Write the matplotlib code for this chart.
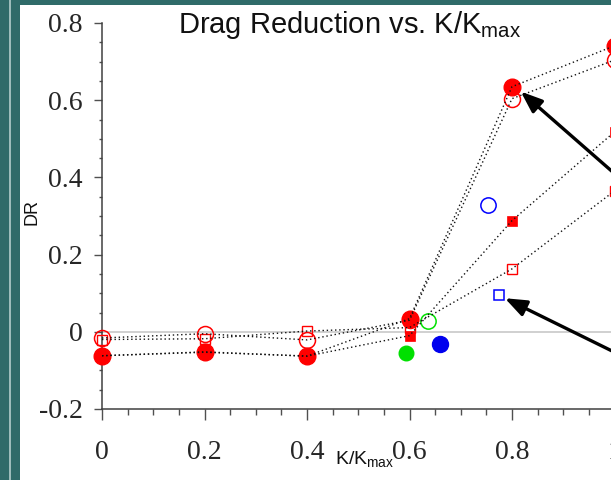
import matplotlib
matplotlib.use("Agg")
import matplotlib.pyplot as plt
from matplotlib.patches import Rectangle
from matplotlib.ticker import MultipleLocator, FuncFormatter

plt.rcParams['font.family'] = ['Liberation Sans', 'DejaVu Sans']
plt.rcParams['axes.unicode_minus'] = False

# ---- data ----
kk = [0.0, 0.2, 0.4, 0.6, 0.8, 1.0]
red_filled_circle = [-0.062, -0.052, -0.063, 0.034, 0.635, 0.741]
red_open_circle = [-0.016, -0.005, -0.021, 0.030, 0.604, 0.704]
red_open_square = [-0.020, -0.018, 0.002, 0.011, 0.163, 0.365]
red_filled_square = [-0.062, -0.053, -0.063, -0.010, 0.288, 0.518]

green_open_x, green_open_y = [0.636], [0.027]
green_filled_x, green_filled_y = [0.593], [-0.054]
blue_filled_x, blue_filled_y = [0.660], [-0.032]
blue_open_circle_x, blue_open_circle_y = [0.753], [0.329]
blue_open_square_x, blue_open_square_y = [0.775], [0.096]

arrow_tips = [(0.817, 0.6225), (0.786, 0.087)]
arrow_tails = [(1.167, 0.216), (1.167, -0.162)]

title_text = 'Drag Reduction vs. K/K$_{\\mathregular{max}}$'
xlabel_text = 'K/K$_{\\mathregular{max}}$'
ylabel_text = 'DR'

W, H = 611, 480
fig = plt.figure(figsize=(W / 100, H / 100), dpi=100, facecolor='#2f6b69')
fig.patches.append(Rectangle((9 / W, 0), 2 / W, 1, transform=fig.transFigure,
                             facecolor='#9dbdbb', edgecolor='none', zorder=-10))
fig.patches.append(Rectangle((20 / W, 0), 1 - 20 / W, 1 - 5 / H, transform=fig.transFigure,
                             facecolor='white', edgecolor='none', zorder=-10))

px_per_x = 512.5
xmax = 1.2
ax = fig.add_axes([102 / W, (H - 409) / H, xmax * px_per_x / W, 386 / H])
ax.set_zorder(1)
ax.set_facecolor('none')
ax.set_xlim(0, xmax)
ax.set_ylim(-0.2, 0.8)

for s in ['top', 'right']:
    ax.spines[s].set_visible(False)
for s in ['left', 'bottom']:
    ax.spines[s].set_color('#404040')
    ax.spines[s].set_linewidth(1.1)

ax.axhline(0, color='#c8c8c8', lw=1.2, zorder=1)

ax.xaxis.set_major_locator(MultipleLocator(0.2))
ax.xaxis.set_minor_locator(MultipleLocator(0.05))
ax.yaxis.set_major_locator(MultipleLocator(0.2))
ax.yaxis.set_minor_locator(MultipleLocator(0.05))
fmt = FuncFormatter(lambda v, p: '0' if abs(v) < 1e-9 else ('%g' % round(v, 2)))
ax.xaxis.set_major_formatter(fmt)
ax.yaxis.set_major_formatter(fmt)

ax.tick_params(axis='y', which='major', direction='out', length=5.5, width=1.0,
               color='#505050', pad=8.5)
ax.tick_params(axis='y', which='minor', direction='out', length=2.5, width=1.0, color='#505050')
ax.tick_params(axis='x', which='major', direction='out', length=8, width=1.0,
               color='#505050', pad=14)
ax.tick_params(axis='x', which='minor', direction='out', length=4, width=1.0, color='#505050')
for lab in ax.get_xticklabels() + ax.get_yticklabels():
    lab.set_fontfamily('Liberation Serif')
    lab.set_fontsize(20)
    lab.set_color('#262626')

dot = (0, (1, 2))
line_kw = dict(color='#111111', lw=1.0, linestyle=dot, zorder=5, clip_on=False)
mk = dict(linestyle='none', clip_on=False)

# red series: markers then dotted lines on top
ax.plot(kk, red_open_circle, marker='o', ms=11.5, mfc='none',
        mec='red', mew=1.1, zorder=3, **mk)
ax.plot(kk, red_filled_square, marker='s', ms=7, mfc='red',
        mec='red', mew=0.5, zorder=3, **mk)
ax.plot(kk, red_open_square, marker='s', ms=7.5, mfc='none',
        mec='red', mew=1.0, zorder=3, **mk)
ax.plot(kk, red_filled_circle, marker='o', ms=12, mfc='red',
        mec='red', zorder=4, **mk)
for ser in [red_filled_circle, red_open_circle, red_open_square, red_filled_square]:
    ax.plot(kk, ser, **line_kw)

ax.plot(green_open_x, green_open_y, marker='o', ms=11, mfc='none',
        mec='#00e000', mew=1.1, zorder=3, **mk)
ax.plot(green_filled_x, green_filled_y, marker='o', ms=10.5, mfc='#00e000',
        mec='#00e000', zorder=3, **mk)
ax.plot(blue_filled_x, blue_filled_y, marker='o', ms=11.5, mfc='#0000ee',
        mec='#0000ee', zorder=3, **mk)
ax.plot(blue_open_circle_x, blue_open_circle_y, marker='o', ms=11,
        mfc='none', mec='#0000ff', mew=1.1, zorder=3, **mk)
ax.plot(blue_open_square_x, blue_open_square_y, marker='s', ms=7.5,
        mfc='none', mec='#0000ff', mew=1.1, zorder=3, **mk)

for tip, tail in zip(arrow_tips, arrow_tails):
    ax.annotate('', xy=tip, xytext=tail, xycoords='data', textcoords='data',
                annotation_clip=False,
                arrowprops=dict(arrowstyle='-|>,head_length=0.65,head_width=0.25',
                                lw=2.4, color='black', mutation_scale=20,
                                shrinkA=0, shrinkB=0),
                zorder=6)

fig.text(350 / W, 1 - 33 / H, title_text, ha='center', va='baseline', fontsize=21,
         color='#111111')
fig.text(335 / W, 1 - 465 / H, xlabel_text, ha='left', va='baseline', fontsize=14,
         color='#111111')
fig.text(40 / W, 1 - 212.5 / H, ylabel_text, rotation=90, ha='right', va='center',
         fontsize=13, color='#111111')

fig.savefig('out.png', dpi=100, facecolor=fig.get_facecolor())
